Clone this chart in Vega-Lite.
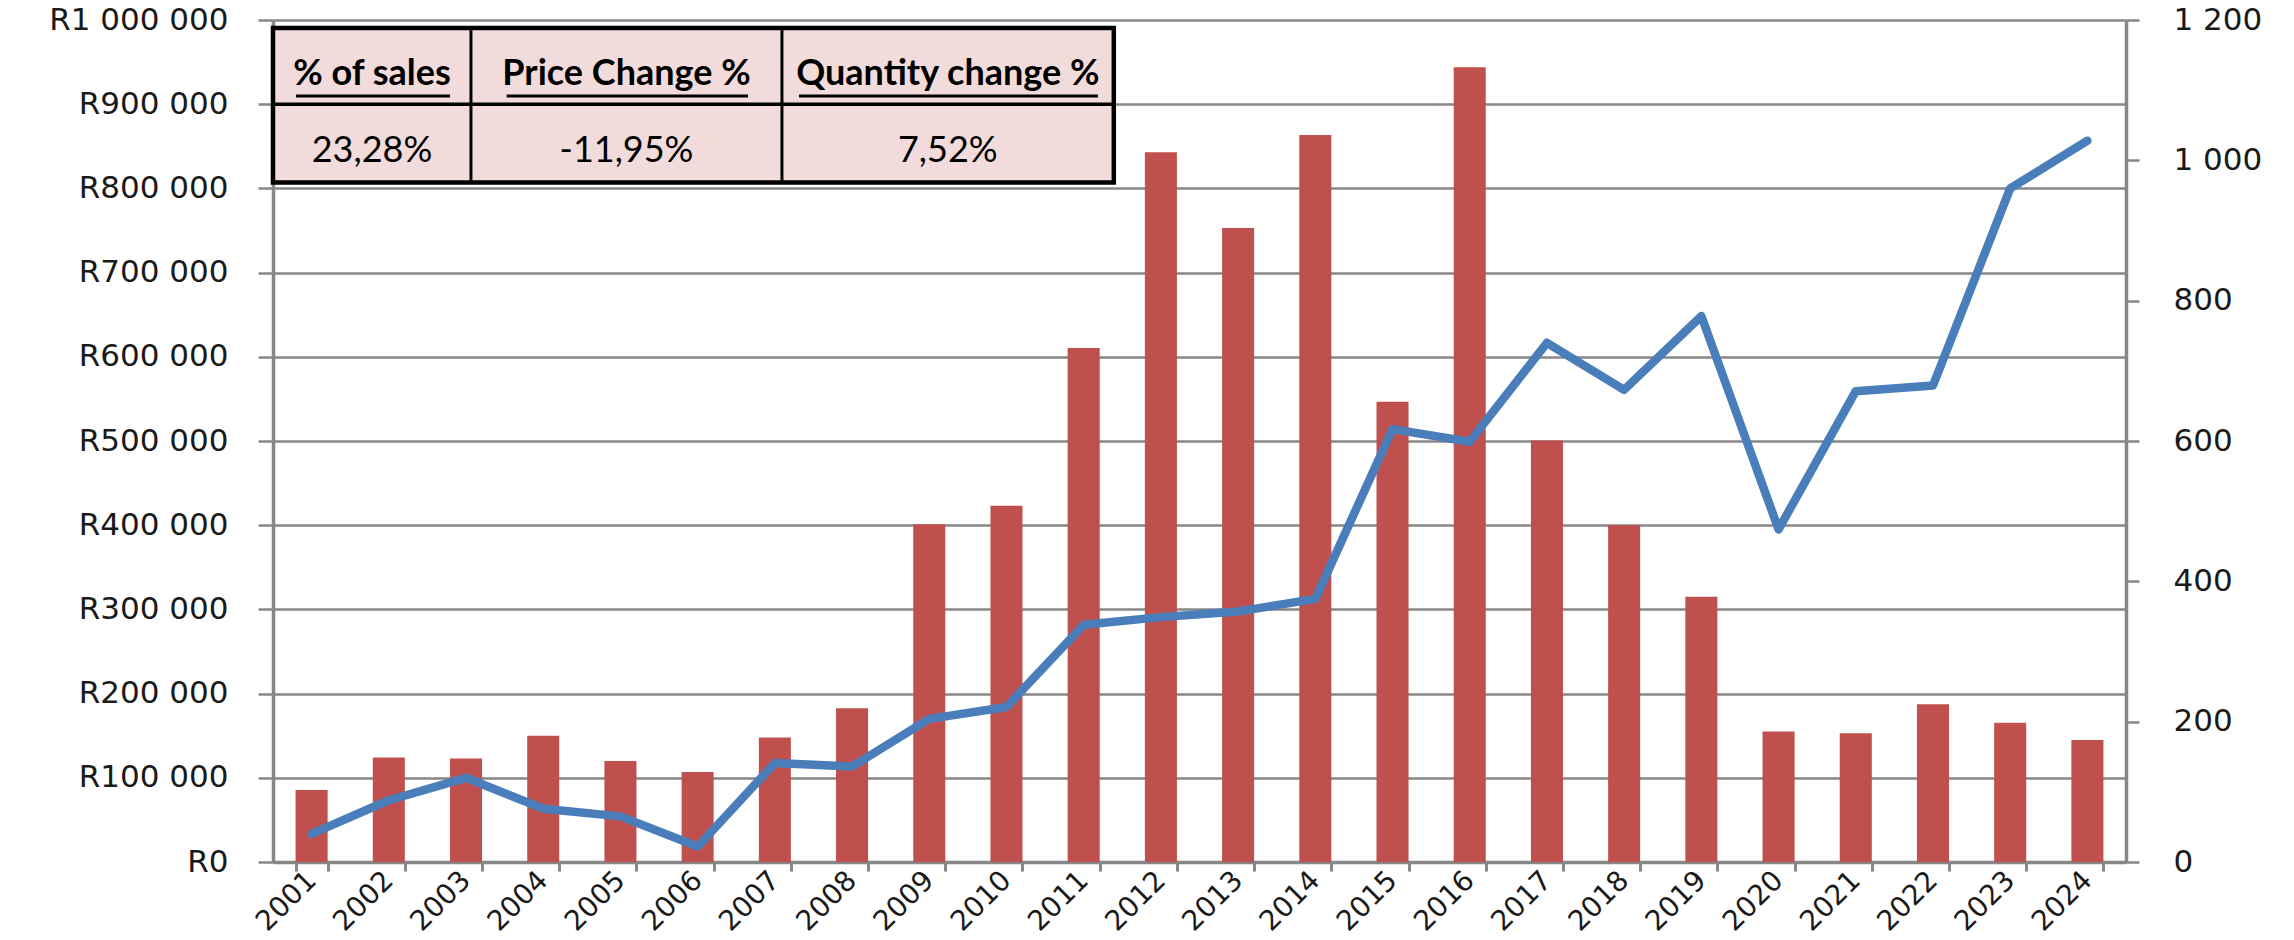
{
  "$schema": "https://vega.github.io/schema/vega-lite/v6.json",
  "width": 1853,
  "height": 842,
  "autosize": {"type": "none"},
  "padding": {"left": 273, "top": 20, "right": 168, "bottom": 78},
  "background": "white",
  "config": {"view": {"stroke": null}, "font": "DejaVu Sans"},
  "datasets": {
    "sales": [
      {"year": 2001, "sales": 85500, "quantity": 40},
      {"year": 2002, "sales": 124000, "quantity": 88},
      {"year": 2003, "sales": 123000, "quantity": 120},
      {"year": 2004, "sales": 150000, "quantity": 76},
      {"year": 2005, "sales": 120000, "quantity": 65},
      {"year": 2006, "sales": 107000, "quantity": 22},
      {"year": 2007, "sales": 148000, "quantity": 141},
      {"year": 2008, "sales": 182500, "quantity": 136},
      {"year": 2009, "sales": 401000, "quantity": 204},
      {"year": 2010, "sales": 423000, "quantity": 221},
      {"year": 2011, "sales": 610500, "quantity": 338},
      {"year": 2012, "sales": 843000, "quantity": 349},
      {"year": 2013, "sales": 753000, "quantity": 357},
      {"year": 2014, "sales": 863500, "quantity": 375},
      {"year": 2015, "sales": 546500, "quantity": 617},
      {"year": 2016, "sales": 944000, "quantity": 599},
      {"year": 2017, "sales": 500500, "quantity": 740},
      {"year": 2018, "sales": 400000, "quantity": 673},
      {"year": 2019, "sales": 315000, "quantity": 778},
      {"year": 2020, "sales": 155000, "quantity": 474},
      {"year": 2021, "sales": 153000, "quantity": 671},
      {"year": 2022, "sales": 187500, "quantity": 679},
      {"year": 2023, "sales": 165500, "quantity": 960},
      {"year": 2024, "sales": 145000, "quantity": 1028}
    ],
    "summary": [
      {"heading": "% of sales", "figure": "23,28%"},
      {"heading": "Price Change %", "figure": "-11,95%"},
      {"heading": "Quantity change %", "figure": "7,52%"}
    ]
  },
  "layer": [
    {
      "data": {"name": "sales"},
      "layer": [
        {
          "mark": {"type": "bar", "color": "#C0504D"},
          "encoding": {
            "x": {
              "field": "year", "type": "ordinal",
              "scale": {"paddingInner": 0.585, "paddingOuter": 0.2925},
              "axis": {
                "title": null, "labelAngle": -45, "labelFontSize": 28, "labelColor": "#1a1a1a",
                "labelAlign": "right", "labelBaseline": "middle",
                "tickBand": "extent", "tickSize": 9, "tickWidth": 3, "tickColor": "#878787",
                "domainColor": "#878787", "domainWidth": 3.5, "labelPadding": 5, "grid": false
              }
            },
            "y": {
              "field": "sales", "type": "quantitative",
              "scale": {"domain": [0, 1000000], "nice": false},
              "axis": {
                "title": null,
                "values": [0, 100000, 200000, 300000, 400000, 500000, 600000, 700000, 800000, 900000, 1000000],
                "labelExpr": "'R' + replace(format(datum.value, ','), regexp(',', 'g'), ' ')",
                "labelFontSize": 31, "labelColor": "#1a1a1a", "tickSize": 15, "labelPadding": 30,
                "grid": true, "gridColor": "#878787", "gridWidth": 2.5,
                "domainColor": "#878787", "domainWidth": 3.5, "tickColor": "#878787", "tickWidth": 2.5
              }
            }
          }
        },
        {
          "mark": {"type": "line", "color": "#4A7EBB", "strokeWidth": 8.5, "strokeCap": "round", "strokeJoin": "round"},
          "encoding": {
            "x": {"field": "year", "type": "ordinal"},
            "y": {
              "field": "quantity", "type": "quantitative",
              "scale": {"domain": [0, 1200], "nice": false},
              "axis": {
                "orient": "right", "title": null,
                "values": [0, 200, 400, 600, 800, 1000, 1200],
                "labelExpr": "replace(format(datum.value, ','), regexp(',', 'g'), ' ')",
                "labelFontSize": 31, "labelColor": "#1a1a1a", "tickSize": 13, "labelPadding": 34,
                "grid": false, "domainColor": "#878787", "domainWidth": 3.5,
                "tickColor": "#878787", "tickWidth": 2.5
              }
            }
          }
        }
      ],
      "resolve": {"scale": {"y": "independent"}}
    },
    {
      "data": {"name": "summary"},
      "layer": [
        {
          "data": {"values": [{}]},
          "mark": {"type": "rect", "fill": "#F2DCDB", "stroke": "#000000", "strokeWidth": 4.5},
          "encoding": {
            "x": {"datum": 0, "type": "quantitative", "scale": {"domain": [0, 24], "nice": false, "zero": false}, "axis": null},
            "x2": {"datum": 10.89},
            "y": {"datum": 807000, "type": "quantitative", "scale": {"domain": [0, 1000000], "nice": false}, "axis": null},
            "y2": {"datum": 990500}
          }
        },
        {
          "data": {"values": [{}]},
          "mark": {"type": "rule", "color": "#000000", "strokeWidth": 3.5},
          "encoding": {
            "x": {"datum": 0, "type": "quantitative"},
            "x2": {"datum": 10.89},
            "y": {"datum": 900000, "type": "quantitative"}
          }
        },
        {
          "data": {"values": [{}]},
          "mark": {"type": "rule", "color": "#000000", "strokeWidth": 3},
          "encoding": {
            "x": {"datum": 2.564, "type": "quantitative"},
            "y": {"datum": 807000, "type": "quantitative"},
            "y2": {"datum": 990500}
          }
        },
        {
          "data": {"values": [{}]},
          "mark": {"type": "rule", "color": "#000000", "strokeWidth": 3},
          "encoding": {
            "x": {"datum": 6.592, "type": "quantitative"},
            "y": {"datum": 807000, "type": "quantitative"},
            "y2": {"datum": 990500}
          }
        },
        {
          "transform": [{"filter": "datum.heading == '% of sales'"}],
          "layer": [
            {"mark": {"type": "text", "font": "Lato", "fontSize": 36, "fontWeight": "bold", "align": "center", "baseline": "alphabetic", "color": "#000000"},
             "encoding": {"x": {"datum": 1.282, "type": "quantitative"}, "y": {"datum": 922800, "type": "quantitative"}, "text": {"field": "heading"}}},
            {"mark": {"type": "text", "font": "Lato", "fontSize": 36, "align": "center", "baseline": "alphabetic", "color": "#000000"},
             "encoding": {"x": {"datum": 1.282, "type": "quantitative"}, "y": {"datum": 831400, "type": "quantitative"}, "text": {"field": "figure"}}},
            {"mark": {"type": "rule", "color": "#000000", "strokeWidth": 3},
             "encoding": {"x": {"datum": 0.298, "type": "quantitative"}, "x2": {"datum": 2.293}, "y": {"datum": 909700, "type": "quantitative"}}}
          ]
        },
        {
          "transform": [{"filter": "datum.heading == 'Price Change %'"}],
          "layer": [
            {"mark": {"type": "text", "font": "Lato", "fontSize": 36, "fontWeight": "bold", "align": "center", "baseline": "alphabetic", "color": "#000000"},
             "encoding": {"x": {"datum": 4.578, "type": "quantitative"}, "y": {"datum": 922800, "type": "quantitative"}, "text": {"field": "heading"}}},
            {"mark": {"type": "text", "font": "Lato", "fontSize": 36, "align": "center", "baseline": "alphabetic", "color": "#000000"},
             "encoding": {"x": {"datum": 4.578, "type": "quantitative"}, "y": {"datum": 831400, "type": "quantitative"}, "text": {"field": "figure"}}},
            {"mark": {"type": "rule", "color": "#000000", "strokeWidth": 3},
             "encoding": {"x": {"datum": 3.026, "type": "quantitative"}, "x2": {"datum": 6.152}, "y": {"datum": 909700, "type": "quantitative"}}}
          ]
        },
        {
          "transform": [{"filter": "datum.heading == 'Quantity change %'"}],
          "layer": [
            {"mark": {"type": "text", "font": "Lato", "fontSize": 36, "fontWeight": "bold", "align": "center", "baseline": "alphabetic", "color": "#000000"},
             "encoding": {"x": {"datum": 8.74, "type": "quantitative"}, "y": {"datum": 922800, "type": "quantitative"}, "text": {"field": "heading"}}},
            {"mark": {"type": "text", "font": "Lato", "fontSize": 36, "align": "center", "baseline": "alphabetic", "color": "#000000"},
             "encoding": {"x": {"datum": 8.74, "type": "quantitative"}, "y": {"datum": 831400, "type": "quantitative"}, "text": {"field": "figure"}}},
            {"mark": {"type": "rule", "color": "#000000", "strokeWidth": 3},
             "encoding": {"x": {"datum": 6.813, "type": "quantitative"}, "x2": {"datum": 10.685}, "y": {"datum": 909700, "type": "quantitative"}}}
          ]
        }
      ]
    }
  ],
  "resolve": {"scale": {"x": "independent", "y": "independent"}}
}
